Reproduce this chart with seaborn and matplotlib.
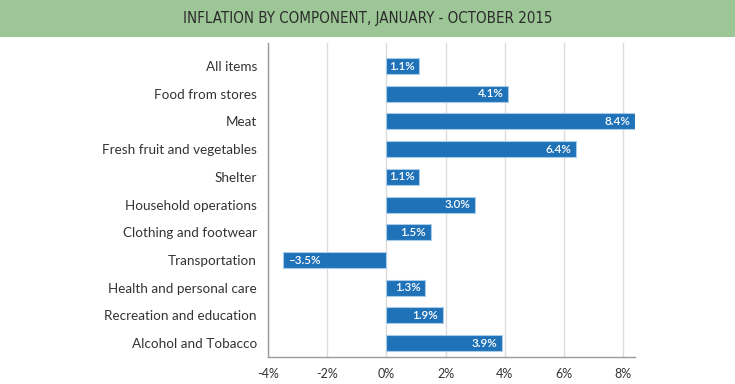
import pandas as pd
import numpy as np
import seaborn as sns
import matplotlib.pyplot as plt
import matplotlib.patches as patches

categories = ['All items', 'Food from stores', 'Meat', 'Fresh fruit and vegetables',
              'Shelter', 'Household operations', 'Clothing and footwear',
              'Transportation', 'Health and personal care',
              'Recreation and education', 'Alcohol and Tobacco']
values = [1.1, 4.1, 8.4, 6.4, 1.1, 3.0, 1.5, -3.5, 1.3, 1.9, 3.9]
x_ticks = [-4, -2, 0, 2, 4, 6, 8]
title = 'INFLATION BY COMPONENT, JANUARY - OCTOBER 2015'

df = pd.DataFrame({'component': categories, 'change': values})

sns.set_style('white')
plt.rcParams['font.family'] = ['Lato', 'DejaVu Sans']

fig = plt.figure(figsize=(7.35, 3.84), dpi=100)
ax = fig.add_axes([268/735, 1-357/384, (635-268)/735, (357-43)/384])

# green header band
fig.patches.append(patches.Rectangle((0, 1-37/384), 1, 37/384, transform=fig.transFigure,
                                     facecolor='#9dc696', edgecolor='none', zorder=0))
fig.text(0.5, 1-18/384, title, ha='center', va='center', fontsize=10.8,
         color='#2b2b2b', family='DejaVu Sans', fontstretch='condensed')

sns.barplot(data=df, x='change', y='component', orient='h', color='#1f72b8',
            width=0.58, saturation=1, edgecolor='#a9cbea', linewidth=0.8, ax=ax, zorder=3)

for i, v in enumerate(values):
    if v >= 0:
        ax.text(v - 0.15, i, f'{v:.1f}%', ha='right', va='center', color='white',
                fontsize=8.4, fontweight='semibold', zorder=4)
    else:
        ax.text(v + 0.2, i, f'\u2013{abs(v):.1f}%', ha='left', va='center', color='white',
                fontsize=8.4, fontweight='semibold', zorder=4)

ax.set_xlim(-4, 8.4)
ax.set_ylim(10.5, -0.83)
ax.set_xticks(x_ticks)
ax.set_xticklabels([f'{t}%' for t in x_ticks], fontsize=9, color='#333333')
ax.tick_params(axis='y', labelsize=9.7, colors='#333333', length=0, pad=8)
ax.tick_params(axis='x', length=0, pad=8)
ax.set_xlabel('')
ax.set_ylabel('')
ax.xaxis.grid(True, color='#dcdcdc', lw=1)
ax.set_axisbelow(True)
for s in ['top', 'right']:
    ax.spines[s].set_visible(False)
for s in ['left', 'bottom']:
    ax.spines[s].set_color('#9a9a9a')
    ax.spines[s].set_linewidth(1)

fig.savefig('out.png', dpi=100)
